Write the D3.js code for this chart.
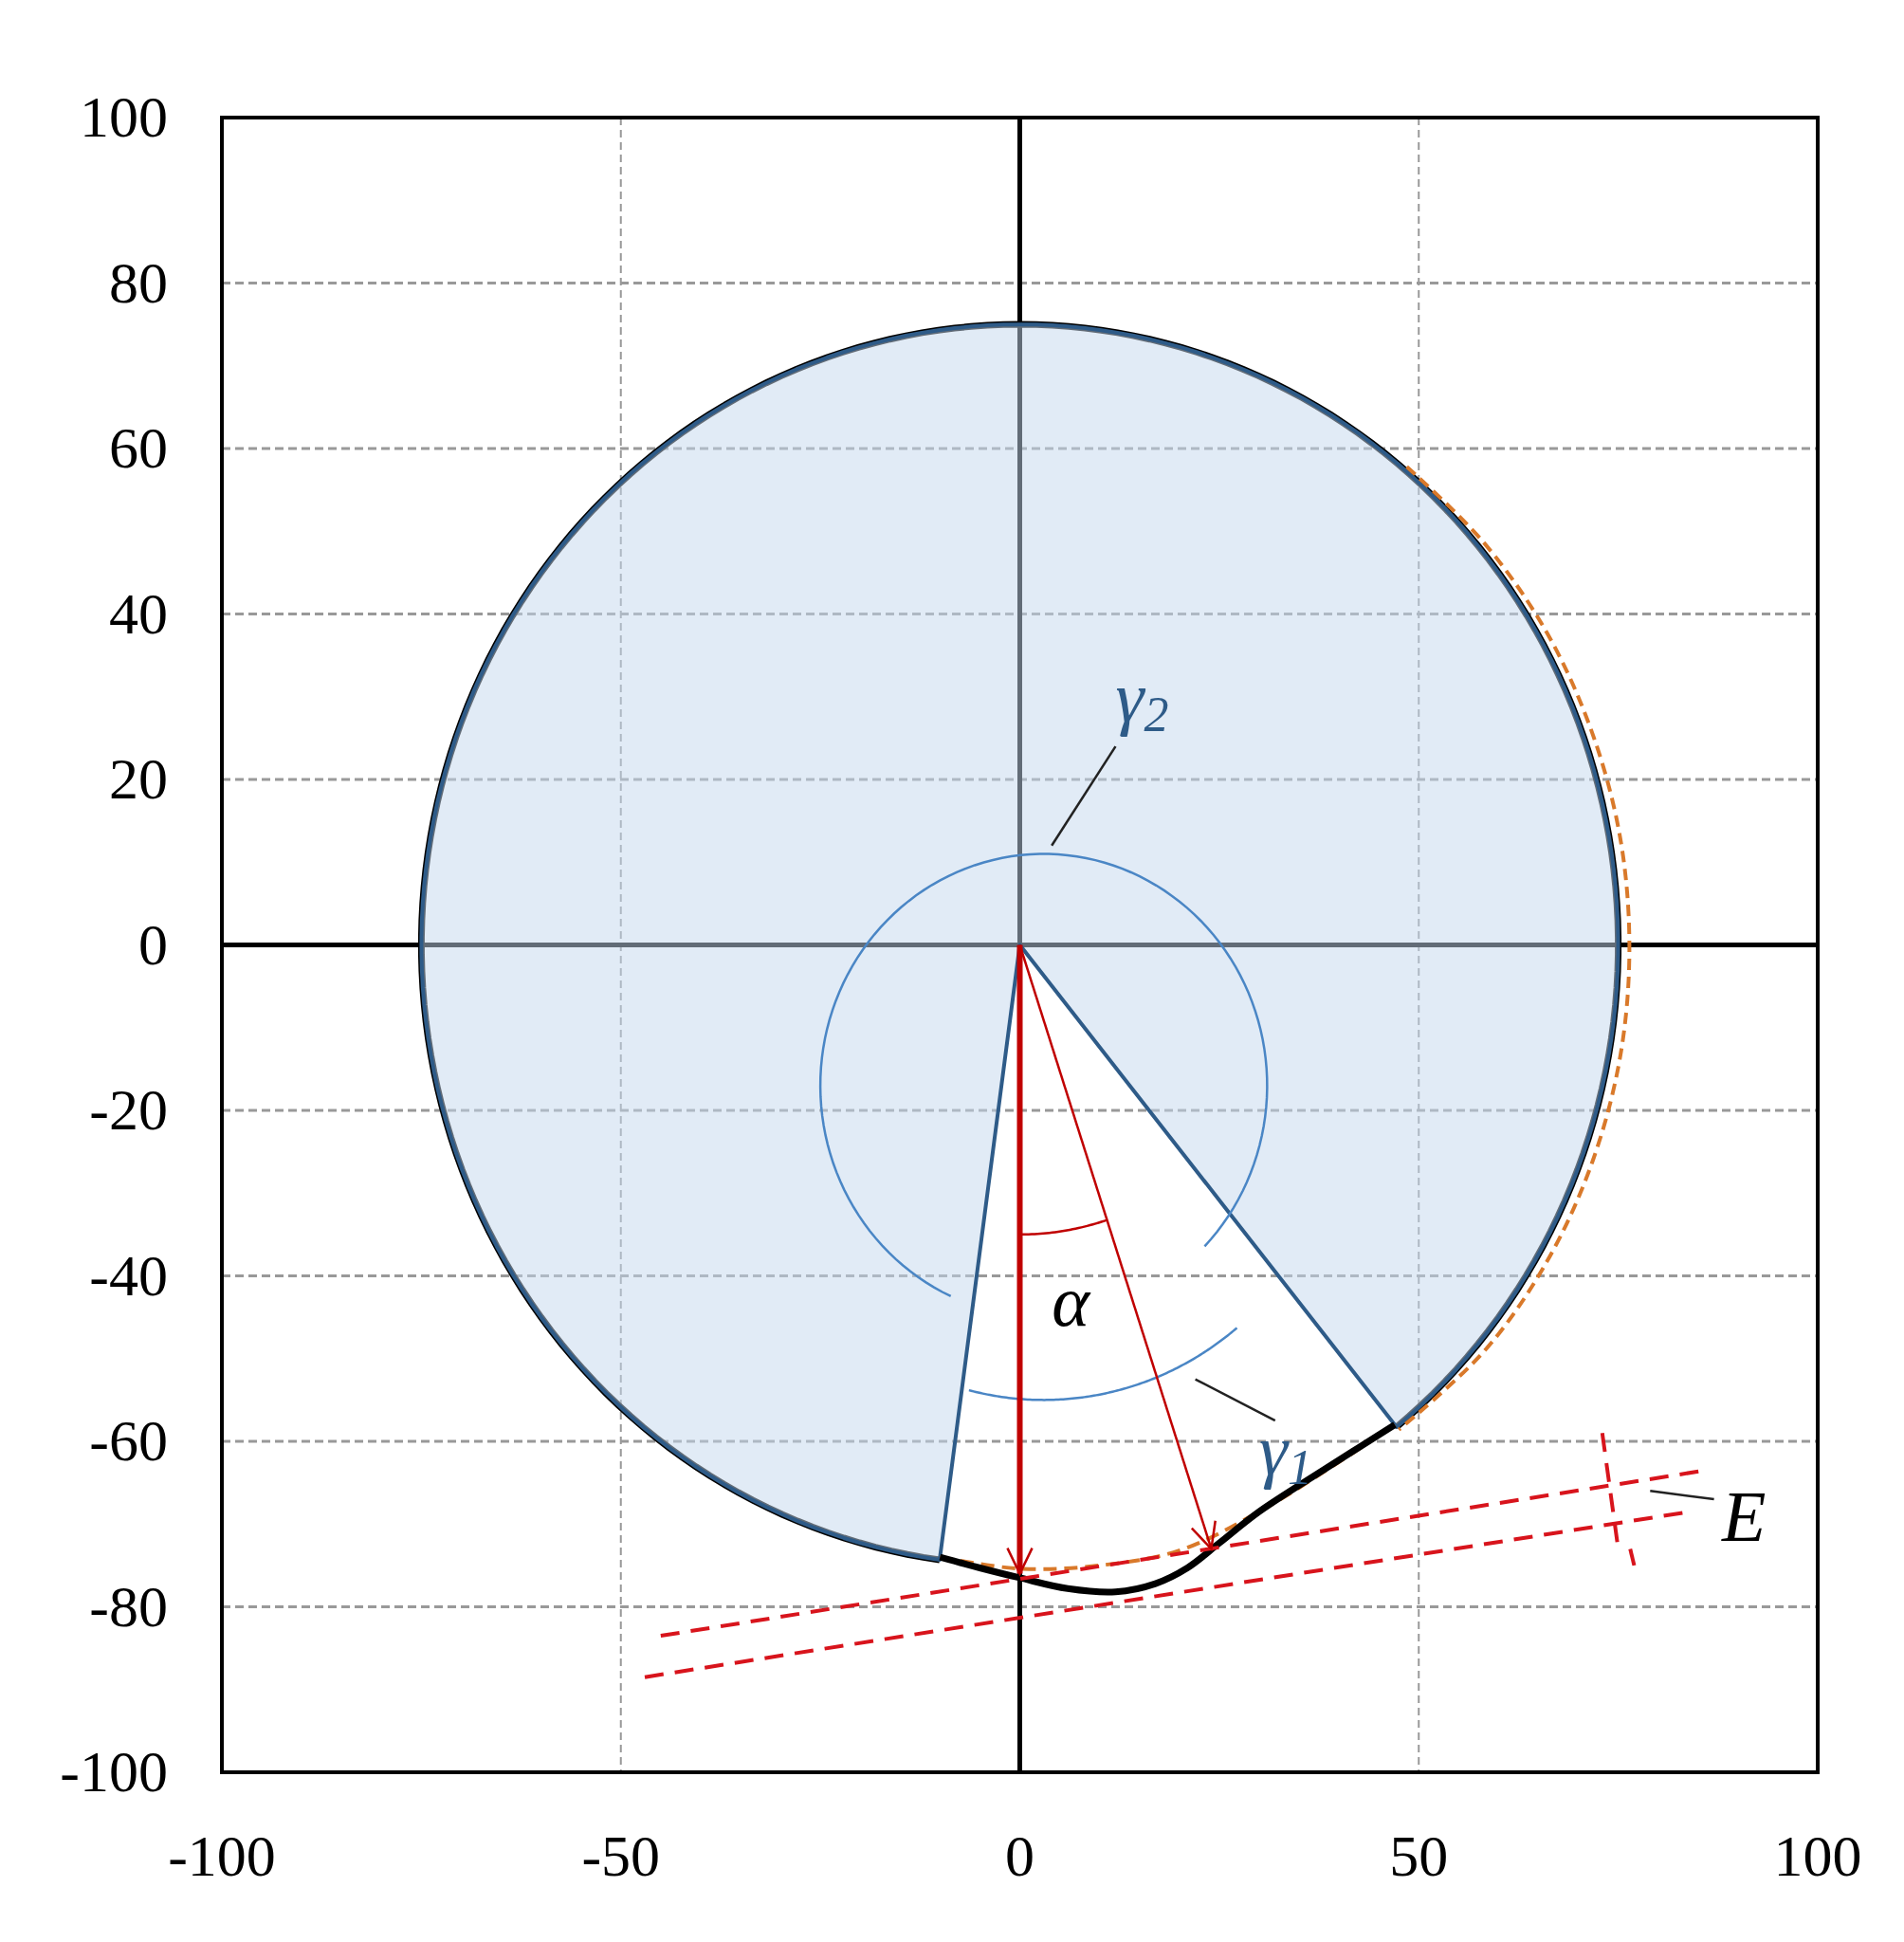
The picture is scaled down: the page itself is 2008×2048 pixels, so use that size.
<!DOCTYPE html>
<html><head><meta charset="utf-8">
<script src="https://cdn.jsdelivr.net/npm/d3@7"></script>
<style>body{margin:0;background:#fff}</style>
</head><body>
<svg id="chart"></svg>
<script>
let width = 2008, height = 2048;
let margin = {top: 124, right: 91, bottom: 179, left: 234};

const xTicks = [-100, -50, 0, 50, 100];
const yTicks = [-100, -80, -60, -40, -20, 0, 20, 40, 60, 80, 100];
const R = 75;
// sector cut corners
const cutLeft = [-10, -74];
const cutRight = [47, -58];
// bottom profile (black)
const profile = [[-10, -74], [-5, -75.3], [0, -76.5], [6, -77.8], [12, -78.2], [17, -77.2], [21, -75.3], [25, -72.3], [30, -68.5], [38, -63.5], [47, -58]];
// orange dashed envelope
const envelope = [[-10, -74], [0, -75.4], [10, -75], [20, -73.2], [30, -68.5], [40, -62.5], [47, -58]];
const envRight = [[48.5, 57.8], [58, 48.8], [65.9, 38], [71.6, 26], [75.2, 13.2], [76.4, 0], [75.3, -13.2], [71.8, -26.1], [66.1, -38.2], [58.3, -49], [47.5, -58.6]];
// E lines
const eUpper = [[-45, -83.5], [86, -63.5]];
const eLower = [[-47, -88.5], [84, -68.5]];
const eTick1 = [[73, -59], [75, -73]];
const eTick2 = [[77, -75], [76.5, -73]];
// arrows
const arrow1 = [[0, 0], [0, -76]];
const arrow2 = [[0, 0], [24, -73]];
// gamma arcs
const gCenter = [3, -17];
const g2R = 28, g1R = 38;

let svg = d3.select('#chart').attr('width', width).attr('height', height);

let x = d3.scaleLinear().domain([-100, 100]).range([margin.left, width - margin.right]);
let y = d3.scaleLinear().domain([-100, 100]).range([height - margin.bottom, margin.top]);
let line = d3.line().x(d => x(d[0])).y(d => y(d[1]));
let curve = d3.line().x(d => x(d[0])).y(d => y(d[1])).curve(d3.curveCatmullRom);

// grid
svg.append('g').selectAll('line').data(xTicks.filter(d => d !== 0 && Math.abs(d) < 100)).join('line')
  .attr('x1', d => x(d)).attr('x2', d => x(d)).attr('y1', y(100)).attr('y2', y(-100))
  .attr('stroke', '#999').attr('stroke-width', 2).attr('stroke-dasharray', '8,5');
svg.append('g').selectAll('line').data(yTicks.filter(d => d !== 0 && Math.abs(d) < 100)).join('line')
  .attr('x1', x(-100)).attr('x2', x(100)).attr('y1', d => y(d)).attr('y2', d => y(d))
  .attr('stroke', '#999').attr('stroke-width', 3).attr('stroke-dasharray', '9,5');

// zero axes
svg.append('line').attr('x1', x(0)).attr('x2', x(0)).attr('y1', y(100)).attr('y2', y(-100)).attr('stroke', '#000').attr('stroke-width', 5);
svg.append('line').attr('x1', x(-100)).attr('x2', x(100)).attr('y1', y(0)).attr('y2', y(0)).attr('stroke', '#000').attr('stroke-width', 5);

// filled sector shape
let a0 = Math.atan2(cutRight[1], cutRight[0]);
let a1 = Math.atan2(cutLeft[1], cutLeft[0]) + 2 * Math.PI;
let arcPts = d3.range(0, 201).map(i => {
  let a = a0 + (a1 - a0) * i / 200;
  return [R * Math.cos(a), R * Math.sin(a)];
});
svg.append('path').datum(arcPts).attr('d', line).attr('fill', 'none').attr('stroke', '#000').attr('stroke-width', 7);
svg.append('path').datum(arcPts.concat([[0, 0]])).attr('d', d => line(d) + 'Z')
  .attr('fill', '#c4d8ee').attr('fill-opacity', 0.5)
  .attr('stroke', '#2e5b88').attr('stroke-width', 4).attr('stroke-linejoin', 'round');

// orange envelope
svg.append('path').datum(envRight).attr('d', curve).attr('fill', 'none').attr('stroke', '#d9792a').attr('stroke-width', 4).attr('stroke-dasharray', '12,7');
svg.append('path').datum(envelope).attr('d', curve).attr('fill', 'none').attr('stroke', '#d9792a').attr('stroke-width', 4).attr('stroke-dasharray', '14,8');

// profile
svg.append('path').datum(profile).attr('d', curve).attr('fill', 'none').attr('stroke', '#000').attr('stroke-width', 7);

// E lines
[eUpper, eLower, eTick1, eTick2].forEach(p => svg.append('path').datum(p).attr('d', line)
  .attr('fill', 'none').attr('stroke', '#d8141c').attr('stroke-width', 4).attr('stroke-dasharray', '20,12'));

// gamma circles
let gArc = (r, s, e) => d3.range(0, 121).map(i => {
  let a = s + (e - s) * i / 120;
  return [gCenter[0] + r * Math.cos(a), gCenter[1] + r * Math.sin(a)];
});
svg.append('path').datum(gArc(g2R, -2.0, -2.0 - 5.05)).attr('d', line).attr('fill', 'none').attr('stroke', '#4a86c5').attr('stroke-width', 2.5);
svg.append('path').datum(gArc(g1R, -1.82, -0.88)).attr('d', line).attr('fill', 'none').attr('stroke', '#4a86c5').attr('stroke-width', 2.5);

// arrows
svg.append('path').datum(arrow1).attr('d', line).attr('stroke', '#c00000').attr('stroke-width', 6);
svg.append('path').datum(arrow2).attr('d', line).attr('stroke', '#c00000').attr('stroke-width', 2.5);
[arrow1, arrow2].forEach(a => {
  let [p, q] = a;
  let ang = Math.atan2(y(q[1]) - y(p[1]), x(q[0]) - x(p[0]));
  let tx = x(q[0]), ty = y(q[1]), L = 30, w = 0.45;
  svg.append('path').attr('d', `M${tx - L * Math.cos(ang - w)},${ty - L * Math.sin(ang - w)}L${tx},${ty}L${tx - L * Math.cos(ang + w)},${ty - L * Math.sin(ang + w)}`)
    .attr('fill', 'none').attr('stroke', '#c00000').attr('stroke-width', 2.5);
});
// alpha arc
let aEnd = Math.atan2(arrow2[1][1], arrow2[1][0]);
let alphaPts = d3.range(0, 31).map(i => {
  let a = -Math.PI / 2 + (aEnd + Math.PI / 2) * i / 30;
  return [35 * Math.cos(a), 35 * Math.sin(a)];
});
svg.append('path').datum(alphaPts).attr('d', line).attr('fill', 'none').attr('stroke', '#c00000').attr('stroke-width', 2.5);

// leaders
[[[12, 24], [4, 12]], [[22, -52.5], [32, -57.5]], [[79, -66], [87, -67]]].forEach(p =>
  svg.append('path').datum(p).attr('d', line).attr('stroke', '#222').attr('stroke-width', 2.5));

// labels
const font = 'Liberation Serif';
function lab(t, sub, px, py, col) {
  let tx = svg.append('text').attr('x', x(px)).attr('y', y(py)).attr('font-family', font).attr('font-style', 'italic').attr('font-size', 76).attr('fill', col).text(t);
  if (sub) tx.append('tspan').attr('font-size', 52).attr('dy', 10).text(sub);
}
lab('γ', '2', 12, 27, '#2e5b88');
lab('γ', '1', 30, -64, '#2e5b88');
lab('α', null, 4, -46, '#000');
lab('E', null, 88, -72, '#000');

// frame
svg.append('rect').attr('x', x(-100)).attr('y', y(100)).attr('width', x(100) - x(-100)).attr('height', y(-100) - y(100))
  .attr('fill', 'none').attr('stroke', '#000').attr('stroke-width', 4);

// tick labels
svg.append('g').selectAll('text').data(yTicks).join('text')
  .attr('x', 177).attr('y', d => y(d) + 20).attr('text-anchor', 'end')
  .attr('font-family', font).attr('font-size', 62).text(d => d);
svg.append('g').selectAll('text').data(xTicks).join('text')
  .attr('x', d => x(d)).attr('y', 1978).attr('text-anchor', 'middle')
  .attr('font-family', font).attr('font-size', 62).text(d => d);
</script>
</body></html>
